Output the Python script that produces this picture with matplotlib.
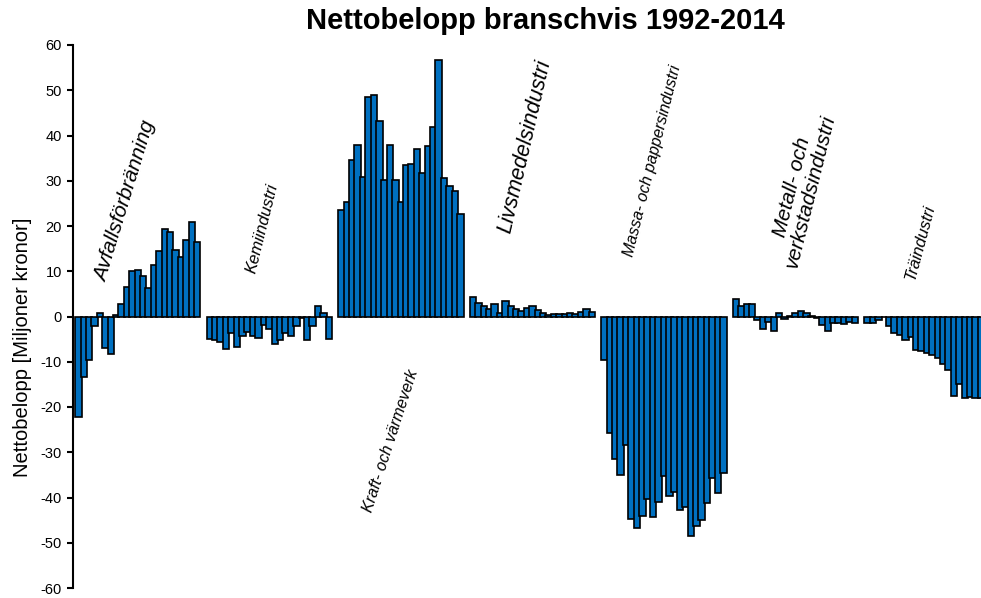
import numpy as np
import matplotlib
matplotlib.use("Agg")
import matplotlib.pyplot as plt

plt.rcParams['font.family'] = ['Liberation Sans', 'DejaVu Sans']

#-----
#DATA
#-----
years = list(range(1992, 2015))
branscher = ["Avfallsförbränning", "Kemiindustri", "Kraft- och värmeverk",
             "Livsmedelsindustri", "Massa- och pappersindustri",
             "Metall- och\nverkstadsindustri", "Träindustri"]

avfall = [-22.3, -13.4, -9.7, -2.2, 0.8, -7.0, -8.2, 0.3, 2.7, 6.6, 10.0, 10.2,
          9.0, 6.3, 11.3, 14.4, 19.4, 18.6, 14.6, 13.1, 16.8, 20.8, 16.4]
kemi = [-4.9, -5.1, -5.7, -7.1, -3.6, -6.8, -4.3, -3.5, -4.2, -4.7, -1.8, -2.7,
        -6.0, -5.3, -3.6, -4.2, -2.1, -0.3, -5.1, -2.1, 2.3, 0.8, -4.9]
kraft = [23.5, 25.3, 34.5, 37.9, 30.8, 48.5, 48.9, 43.2, 30.1, 38.0, 30.1, 25.2,
         33.4, 33.7, 37.0, 31.7, 37.6, 41.8, 56.6, 30.6, 28.8, 27.7, 22.6]
livs = [4.3, 2.9, 2.3, 1.7, 2.8, 0.8, 3.4, 2.4, 1.7, 1.2, 1.8, 2.3,
        1.5, 0.8, 0.4, 0.6, 0.5, 0.6, 0.8, 0.5, 1.0, 1.7, 1.0]
massa = [-9.7, -25.7, -31.5, -35.1, -28.3, -44.7, -46.7, -44.1, -40.3, -44.3, -40.9, -35.3,
         -39.7, -38.8, -42.8, -42.1, -48.4, -46.3, -44.9, -41.3, -35.7, -39.0, -34.5]
metall = [3.9, 2.4, 2.7, 2.7, -0.8, -2.7, -1.3, -3.2, 0.7, -0.5, 0.2, 0.7,
          1.2, 0.8, 0.2, -0.4, -1.8, -3.2, -1.5, -1.4, -1.7, -1.2, -1.4]
tra = [-1.5, -1.5, -0.7, -0.1, -2.0, -3.6, -4.0, -5.2, -4.5, -7.3, -7.7, -8.0,
       -8.6, -9.1, -10.6, -11.9, -17.6, -15.0, -18.0, -17.8, -18.0, -18.1, -18.2]

serier = [avfall, kemi, kraft, livs, massa, metall, tra]

#------
#LAYOUT
#------
step_grupp = 24.35
bar_w = 1.2
blue = '#0070C0'

fig = plt.figure(figsize=(9.81, 5.98), dpi=100)
ax = fig.add_axes([73/981, 10/598, 1 - 73/981, 543/598])

for g, vals in enumerate(serier):
    x = g*step_grupp + np.arange(len(vals))
    for xi, v in zip(x, vals):
        ax.bar(xi, v, width=bar_w, color=blue, edgecolor='black', linewidth=1.2)

ax.set_xlim(-1, 167.1)
ax.set_ylim(-60, 60)
ax.set_yticks(np.arange(-60, 61, 10))
ax.set_yticklabels([str(t) for t in range(-60, 61, 10)], fontsize=10.5)
ax.set_xticks([])
for s in ['top', 'right', 'bottom']:
    ax.spines[s].set_visible(False)
ax.spines['left'].set_linewidth(1.5)
ax.tick_params(axis='y', length=4, width=1.5, direction='out', pad=4)

ax.set_ylabel("Nettobelopp [Miljoner kronor]", fontsize=14.5)
ax.yaxis.set_label_coords(-0.045, 0.444)

fig.text(545/981, 1 - 21/598, "Nettobelopp branschvis 1992-2014",
         ha='center', va='center', fontsize=21, fontweight='bold')

# branschetiketter: x, y, rotation, storlek
etiketter = [(8.6, 25.4, 73, 15), (34.0, 19.4, 76, 12), (57.9, -27.4, 72, 11.5),
             (82.7, 37.6, 77, 15.5), (106.2, 34.3, 76, 11.5), (133.8, 28.1, 76, 15),
             (155.9, 16.4, 75, 12)]
for namn, (lx, ly, rot, fs) in zip(branscher, etiketter):
    ax.text(lx, ly, namn, rotation=rot, fontsize=fs, fontstyle='italic',
            ha='center', va='center', rotation_mode='anchor', linespacing=1.0)

fig.savefig("out.png", dpi=100)
